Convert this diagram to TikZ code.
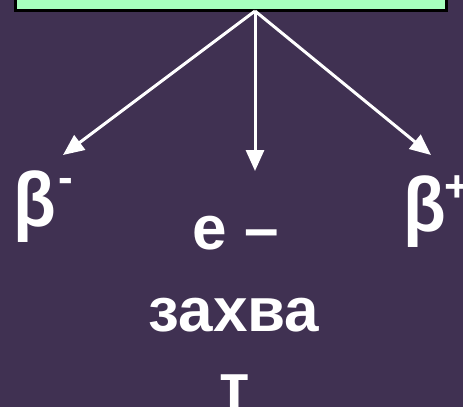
\documentclass[tikz,border=0pt]{standalone}
\usepackage{fontspec}
\setmainfont{Liberation Sans}
\usetikzlibrary{arrows.meta}
\definecolor{bgpurple}{RGB}{64,49,82}
\definecolor{boxgreen}{RGB}{166,255,190}
\newcommand{\supmark}[2]{\raisebox{#1}{\bfseries\fontsize{44}{44}\selectfont #2}}
\newcommand{\tallbeta}{\scalebox{1}[1.1]{β}}
\tikzset{
  lbl/.style={text=white, font=\bfseries\fontsize{62}{82}\selectfont, inner sep=0pt, anchor=base},
  betalbl/.style={text=white, font=\bfseries\fontsize{70}{70}\selectfont, inner sep=0pt, anchor=base west},
  arr/.style={draw=white, line width=3pt, -{Triangle[length=21pt,width=18pt]}},
  srcbox/.style={fill=boxgreen, draw=black, line width=3pt}
}
\begin{document}
\begin{tikzpicture}[x=1pt,y=1pt]
\fill[bgpurple] (0,0) rectangle (463,-407);
\useasboundingbox (0,0) rectangle (463,-407);
\begin{scope}
\clip (0,0) rectangle (463,-407);
\draw[srcbox] (15.5,20) rectangle (446.5,-10.5);
\node[betalbl] (bm) at (13,-226.5) {\tallbeta\kern3pt\supmark{34.5pt}{-}};
\node[betalbl] (bp) at (403,-231.5) {\tallbeta\kern-1pt\supmark{30.5pt}{+}};
\node[lbl] (ec3) at (235,-407) {т};
\end{scope}
\coordinate (o) at (255,-11);
\coordinate (tl) at (63,-155);
\coordinate (tc) at (255,-171);
\coordinate (tr) at (431,-155);
\draw[arr] (o) -- (tl);
\draw[arr] (o) -- (tc);
\draw[arr] (o) -- (tr);
\node[lbl] (ec1) at (236,-249) {e –};
\node[lbl] (ec2) at (234,-331) {захва};
\end{tikzpicture}
\end{document}
